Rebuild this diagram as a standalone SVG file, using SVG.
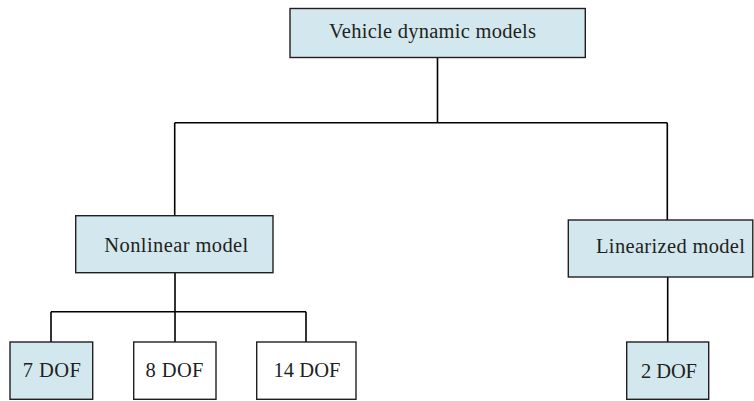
<svg xmlns="http://www.w3.org/2000/svg" width="754" height="401" viewBox="0 0 754 401">
<style>
.b{fill:#d2e8ee;stroke:#231f20;stroke-width:1.4}
.w{fill:#ffffff;stroke:#231f20;stroke-width:1.4}
.t{font-family:"Liberation Serif","Times New Roman",serif;font-size:20.5px;fill:#231f20;text-anchor:middle}
.c{fill:none;stroke:#000000;stroke-width:1.6}
</style>
<rect width="754" height="401" fill="#ffffff"/>
<g id="connectors">
<path class="c" d="M437.5 57.5V122.7M174.7 122.7H667.3M174.7 122.7V215.7M667.3 122.7V220"/>
<path class="c" d="M175 272.7V311.7M51 311.7H306M51 311.7V342M175 311.7V342M306 311.7V342"/>
<path class="c" d="M667.7 277V342"/>
</g>
<g id="vehicle">
<rect class="b" x="290" y="8.5" width="295.3" height="49"/>
<text class="t" x="432.5" y="37.5" textLength="207">Vehicle dynamic models</text>
</g>
<g id="nonlinear">
<rect class="b" x="75.7" y="215.7" width="197.3" height="57"/>
<text class="t" x="176.3" y="251.7" textLength="144">Nonlinear model</text>
</g>
<g id="linearized">
<rect class="b" x="568.3" y="220" width="184.5" height="57"/>
<text class="t" x="670.5" y="252.7" textLength="149">Linearized model</text>
</g>
<g id="dof7">
<rect class="b" x="10" y="342" width="82.7" height="57.3"/>
<text class="t" x="51.8" y="376.7" textLength="58">7 DOF</text>
</g>
<g id="dof8">
<rect class="w" x="133.7" y="342" width="82.3" height="57.3"/>
<text class="t" x="174.5" y="376.7" textLength="58">8 DOF</text>
</g>
<g id="dof14">
<rect class="w" x="256.7" y="342" width="99.3" height="57.3"/>
<text class="t" x="307" y="376.7" textLength="67">14 DOF</text>
</g>
<g id="dof2">
<rect class="b" x="626.7" y="342" width="82" height="57.3"/>
<text class="t" x="669" y="378" textLength="56">2 DOF</text>
</g>
</svg>
